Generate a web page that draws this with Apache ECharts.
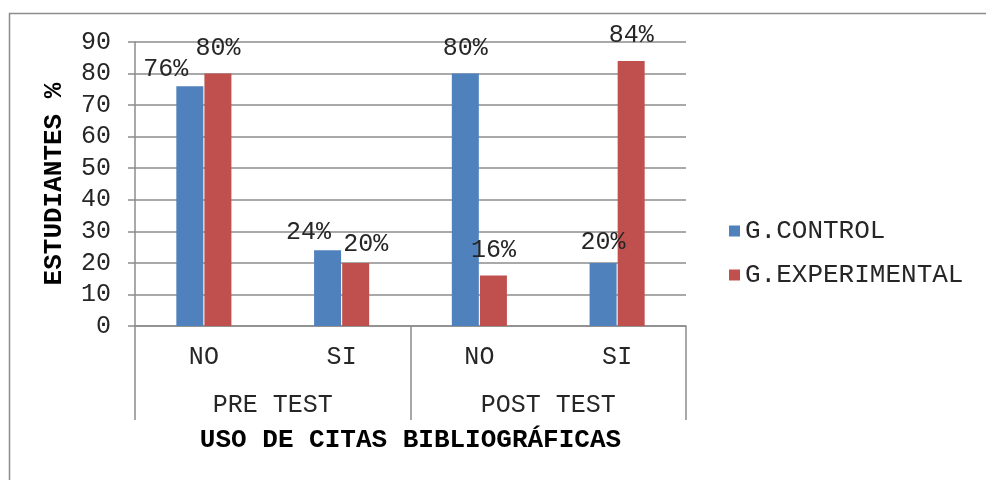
<!DOCTYPE html>
<html>
<head>
<meta charset="utf-8">
<script src="https://cdn.jsdelivr.net/npm/echarts@6/dist/echarts.min.js"></script>
<style>
  html, body { margin: 0; padding: 0; background: #fff; }
  #chart { width: 986px; height: 480px; }
</style>
</head>
<body>
<div id="chart"></div>
<script>
// datos del gráfico
const subCategories = ['NO', 'SI', 'NO', 'SI'];
const groups = ['PRE TEST', 'POST TEST'];
const controlValues = [76, 24, 80, 20];
const experimentalValues = [80, 20, 16, 84];
const seriesNames = ['G.CONTROL', 'G.EXPERIMENTAL'];
const yTicks = [0, 10, 20, 30, 40, 50, 60, 70, 80, 90];

const colors = {
    control: '#4F81BD',
    experimental: '#C0504D',
    grid: '#8C8C8C',
    text: '#262626'
};
const mono = '"Liberation Mono", "Courier New", monospace';
const fs = 25;

// desplazamientos de etiquetas (como en el original de Excel)
const controlShift = [[-24, 9], [-19, 8], [0, 0], [0, 5]];
const experimentalShift = [[0, 0], [10, 7], [0, 0], [0, 0]];

const chart = echarts.init(document.getElementById('chart'));

const makeData = (values, shifts) => values.map((v, i) => ({
    value: v,
    label: { offset: shifts[i] }
}));

const barLabel = {
    show: true,
    position: 'top',
    distance: 13,
    formatter: '{c}%',
    fontFamily: mono,
    fontSize: fs,
    color: colors.text
};

const option = {
    backgroundColor: '#fff',
    animation: false,
    textStyle: { fontFamily: mono },
    graphic: [{
        type: 'rect',
        shape: { x: 9.5, y: 13.5, width: 1000, height: 500 },
        style: { fill: 'none', stroke: colors.grid, lineWidth: 1.5 },
        silent: true
    }],
    legend: {
        orient: 'vertical',
        left: 724,
        top: 213,
        itemWidth: 11,
        itemHeight: 11,
        itemGap: 18,
        icon: 'rect',
        data: seriesNames,
        textStyle: { fontFamily: mono, fontSize: 26, color: colors.text }
    },
    grid: { left: 135, right: 300, top: 42, bottom: 154 },
    xAxis: [{
        type: 'category',
        data: subCategories,
        position: 'bottom',
        axisLine: { lineStyle: { color: colors.grid, width: 1.5 } },
        axisTick: { show: false },
        axisLabel: { margin: 19, fontFamily: mono, fontSize: fs, color: colors.text }
    }, {
        type: 'category',
        data: groups,
        position: 'bottom',
        axisLine: { show: false },
        axisTick: { show: true, length: 94, lineStyle: { color: colors.grid, width: 1.5 } },
        axisLabel: { margin: 67, fontFamily: mono, fontSize: fs, color: colors.text },
        name: 'USO DE CITAS BIBLIOGRÁFICAS',
        nameLocation: 'middle',
        nameGap: 101,
        nameTextStyle: { fontFamily: mono, fontSize: 26, fontWeight: 'bold', color: '#000' }
    }],
    yAxis: {
        type: 'value',
        min: yTicks[0],
        max: yTicks[yTicks.length - 1],
        interval: 10,
        name: 'ESTUDIANTES %',
        nameLocation: 'middle',
        nameGap: 68,
        nameTextStyle: { fontFamily: mono, fontSize: 26, fontWeight: 'bold', color: '#000' },
        axisLine: { show: true, lineStyle: { color: colors.grid, width: 1.5 } },
        axisTick: { show: true, length: 7, lineStyle: { color: colors.grid, width: 1.5 } },
        axisLabel: { margin: 24, fontFamily: mono, fontSize: fs, color: colors.text },
        splitLine: { lineStyle: { color: colors.grid, width: 1.5 } }
    },
    series: [{
        name: seriesNames[0],
        type: 'bar',
        xAxisIndex: 0,
        barWidth: 27,
        barGap: '4%',
        itemStyle: { color: colors.control },
        label: barLabel,
        data: makeData(controlValues, controlShift)
    }, {
        name: seriesNames[1],
        type: 'bar',
        xAxisIndex: 0,
        barWidth: 27,
        itemStyle: { color: colors.experimental },
        label: barLabel,
        data: makeData(experimentalValues, experimentalShift)
    }]
};

chart.setOption(option);
</script>
</body>
</html>
